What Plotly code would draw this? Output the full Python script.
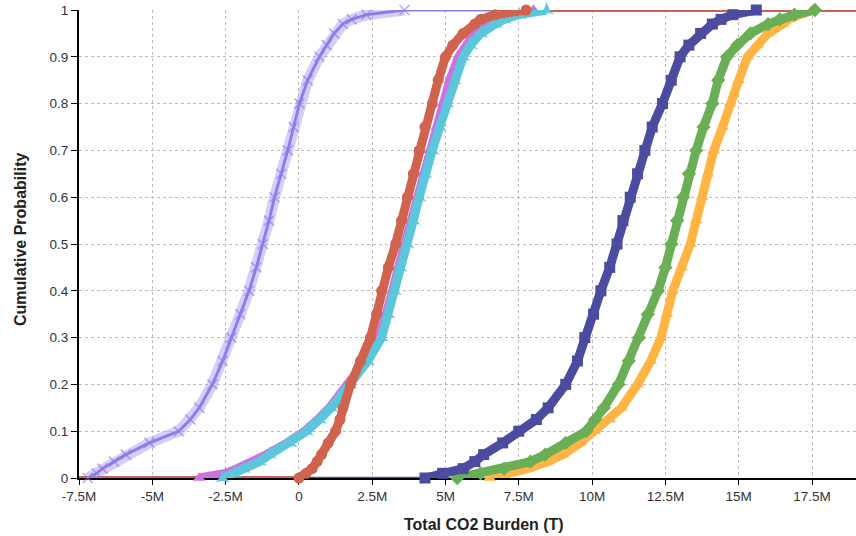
import plotly.graph_objects as go

# Cumulative probability levels (shared by all series)
prob = [0, 0.01, 0.02, 0.035, 0.05, 0.075, 0.1, 0.125, 0.15, 0.2, 0.25, 0.3, 0.35,
        0.4, 0.45, 0.5, 0.55, 0.6, 0.65, 0.7, 0.75, 0.8, 0.85, 0.9, 0.925, 0.95,
        0.97, 0.98, 0.99, 1.0]

# Total CO2 burden (millions of tonnes) at each probability level
purple = [-7.2, -6.9, -6.7, -6.3, -5.9, -5.1, -4.1, -3.7, -3.4, -2.95, -2.6, -2.3, -2.0,
          -1.7, -1.45, -1.23, -1.02, -0.83, -0.6, -0.38, -0.18, 0.02, 0.3, 0.7, 0.95, 1.2,
          1.5, 1.8, 2.3, 3.6]
magenta = [-3.4, -2.5, -2.1, -1.5, -1.1, -0.4, 0.2, 0.65, 1.05, 1.65, 2.3, 2.75, 3.0,
           3.2, 3.4, 3.62, 3.82, 4.02, 4.22, 4.45, 4.7, 4.92, 5.15, 5.45, 5.7, 6.0,
           6.4, 6.7, 7.2, 8.0]
cyan = [-2.6, -2.2, -1.9, -1.34, -1.0, -0.3, 0.26, 0.7, 1.1, 1.73, 2.35, 2.82, 3.05,
        3.26, 3.45, 3.7, 3.9, 4.1, 4.3, 4.55, 4.8, 5.05, 5.3, 5.6, 5.85, 6.2,
        6.7, 7.0, 7.5, 8.45]
orange = [6.5, 7.3, 7.8, 8.5, 9.0, 9.6, 10.1, 10.6, 11.0, 11.55, 12.0, 12.35, 12.55,
          12.75, 13.05, 13.35, 13.55, 13.75, 13.95, 14.15, 14.45, 14.7, 15.0, 15.3, 15.65, 16.0,
          16.5, 16.7, 17.1, 17.5]
green = [5.4, 6.2, 7.0, 7.9, 8.4, 9.1, 9.8, 10.1, 10.4, 10.9, 11.25, 11.6, 11.9,
         12.25, 12.5, 12.7, 12.9, 13.1, 13.3, 13.55, 13.8, 14.1, 14.3, 14.6, 14.95, 15.4,
         16.0, 16.4, 16.9, 17.6]
blue = [4.3, 4.9, 5.6, 6.0, 6.3, 6.95, 7.5, 8.1, 8.5, 9.1, 9.5, 9.75, 10.05,
        10.3, 10.6, 10.85, 11.05, 11.3, 11.55, 11.8, 12.05, 12.4, 12.7, 13.0, 13.3, 13.7,
        14.1, 14.4, 14.8, 15.6]
red = [0.0, 0.25, 0.45, 0.62, 0.77, 1.0, 1.25, 1.4, 1.5, 1.76, 2.1, 2.44, 2.65,
       2.82, 3.05, 3.3, 3.5, 3.7, 3.9, 4.1, 4.3, 4.55, 4.75, 5.0, 5.25, 5.6,
       6.0, 6.2, 6.7, 7.75]

xtick_vals = [-7.5, -5, -2.5, 0, 2.5, 5, 7.5, 10, 12.5, 15, 17.5]
xtick_text = ["-7.5M", "-5M", "-2.5M", "0", "2.5M", "5M", "7.5M", "10M", "12.5M", "15M", "17.5M"]
ytick_vals = [0, 0.1, 0.2, 0.3, 0.4, 0.5, 0.6, 0.7, 0.8, 0.9, 1]
ytick_text = ["0", "0.1", "0.2", "0.3", "0.4", "0.5", "0.6", "0.7", "0.8", "0.9", "1"]

X_RANGE = [-7.5, 19.0]
X_EXT = [-9.0, 21.0]   # extension of each CDF beyond the visible axis

series = [
    # name, data, colour, band colour, marker symbol, thin-line width
    ("purple", purple, "#8C7BE6", "rgba(165,145,240,0.45)", "x-thin-open", 3),
    ("magenta", magenta, "#D26FE0", "#D26FE0", "triangle-up", 2.2),
    ("cyan", cyan, "#5CC6DC", "#5CC6DC", "star-triangle-up", 2.2),
    ("orange", orange, "#FFB444", "#FFB444", "triangle-up", 2.2),
    ("green", green, "#6AAE55", "#6AAE55", "diamond", 2.2),
    ("blue", blue, "#5656A6", "#4B4B9F", "square", 2.5),
    ("red", red, "#C86258", "#D0634E", "circle", 4),
]

fig = go.Figure()

# thin CDF lines, extending at 0 to the left and at 1 to the right
for name, vals, col, band, sym, lw in series:
    xs = [X_EXT[0]] + vals + [X_EXT[1]]
    ys = [prob[0]] + prob + [prob[-1]]
    fig.add_trace(go.Scatter(x=xs, y=ys, mode="lines",
                             line=dict(color=col, width=lw),
                             hoverinfo="skip", showlegend=False))

# thick marker bands
for name, vals, col, band, sym, lw in series:
    if name == "purple":
        fig.add_trace(go.Scatter(x=vals, y=prob, mode="lines+markers",
                                 line=dict(color=band, width=11),
                                 marker=dict(symbol=sym, size=10, color="rgba(150,125,235,0.7)",
                                             line=dict(width=1.5, color="rgba(150,125,235,0.7)")),
                                 cliponaxis=False, showlegend=False, name=name))
        fig.add_trace(go.Scatter(x=vals, y=prob, mode="lines",
                                 line=dict(color=col, width=1.8),
                                 cliponaxis=False, showlegend=False, hoverinfo="skip"))
    else:
        fig.add_trace(go.Scatter(x=vals, y=prob, mode="lines+markers",
                                 line=dict(color=band, width=9),
                                 marker=dict(symbol=sym, size=11, color=band,
                                             line=dict(width=0)),
                                 cliponaxis=False, showlegend=False, name=name))

font_family = "Liberation Sans, Arial, sans-serif"

fig.update_layout(
    width=856, height=536,
    margin=dict(l=79, r=0, t=10, b=58),
    paper_bgcolor="white", plot_bgcolor="white",
    font=dict(family=font_family, size=13.5, color="#333333"),
    xaxis=dict(range=X_RANGE, tickvals=xtick_vals, ticktext=xtick_text,
               showgrid=True, gridcolor="#bdbdbd", griddash="dot", gridwidth=1,
               showline=True, linecolor="black", linewidth=2,
               ticks="outside", ticklen=5, tickcolor="black", tickwidth=1,
               zeroline=False, layer="below traces",
               tickfont=dict(family=font_family, size=13.5, color="#333333")),
    yaxis=dict(range=[0, 1], tickvals=ytick_vals, ticktext=ytick_text,
               showgrid=True, gridcolor="#bdbdbd", griddash="dot", gridwidth=1,
               showline=True, linecolor="black", linewidth=2,
               ticks="outside", ticklen=6, tickcolor="black", tickwidth=1,
               zeroline=False, layer="below traces",
               tickfont=dict(family=font_family, size=13.5, color="#333333")),
    annotations=[
        dict(text="<b>Total CO2 Burden (T)</b>", xref="paper", yref="paper",
             x=(484 - 79) / 777, y=(478 - 524) / 468, xanchor="center", yanchor="middle",
             showarrow=False, font=dict(family=font_family, size=16, color="#222222")),
        dict(text="<b>Cumulative Probability</b>", xref="paper", yref="paper",
             x=(20 - 79) / 777, y=(478 - 240) / 468, xanchor="center", yanchor="middle",
             textangle=-90,
             showarrow=False, font=dict(family=font_family, size=16, color="#222222")),
    ],
)

fig.write_html("out.html")
